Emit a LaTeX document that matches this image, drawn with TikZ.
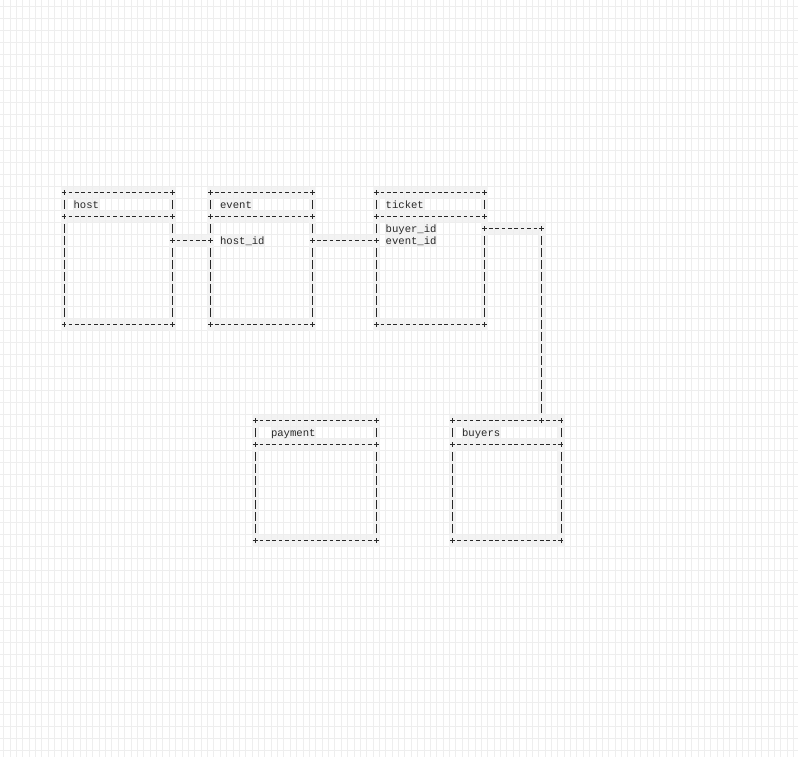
\documentclass[tikz,border=0pt]{standalone}
\usepackage{fontspec}
\setmonofont{Liberation Mono}
\definecolor{ink}{RGB}{40, 40, 40}
\definecolor{cellgray}{RGB}{243, 243, 243}
\definecolor{gridgray}{RGB}{238, 238, 238}
\pgfdeclarelayer{shade}
\pgfdeclarelayer{gridlayer}
\pgfsetlayers{shade,gridlayer,main}

\begin{document}
\begin{tikzpicture}[
        x=6.37pt, y=-12pt,
        every node/.style={inner sep=0pt, outer sep=0pt},
        tablebox/.style 2 args={minimum width=#1*6.37pt, minimum height=#2*12pt},
        fieldtext/.style={anchor=west, font=\ttfamily\fontsize{10.6pt}{12pt}\selectfont,
            text=ink, text height=8pt, text depth=1pt, minimum height=12pt},
        hrun/.style={draw=ink, line width=0.7pt, dash pattern=on 3.6pt off 2.77pt, dash phase=1.8pt},
        vrun/.style={draw=ink, line width=0.7pt, dash pattern=on 9pt off 3pt, dash phase=4.5pt},
        gridline/.style={draw=gridgray, line width=0.6pt},
        crossmark/.pic={
            \fill[cellgray] (-3.185pt,-6pt) rectangle (3.185pt,6pt);
            \draw[ink, solid, line width=0.7pt] (-2.4pt,0pt) -- (2.4pt,0pt) (0pt,-2.4pt) -- (0pt,2.4pt);
        }
    ]
    \useasboundingbox (-64pt,192.5pt) rectangle (734pt,-563.5pt);

    \node[tablebox={17}{11}] (host) at (8.5,5.5) {};
    \node[tablebox={16}{11}] (event) at (31,5.5) {};
    \node[tablebox={17}{11}] (ticket) at (57.5,5.5) {};
    \node[tablebox={19}{10}] (payment) at (39.5,24) {};
    \node[tablebox={17}{10}] (buyers) at (69.5,24) {};

    \node[fieldtext] (hosttitle) at (1.5,1) {host};
    \node[fieldtext] (eventtitle) at (24.5,1) {event};
    \node[fieldtext] (tickettitle) at (50.5,1) {ticket};
    \node[fieldtext] (paymenttitle) at (32.5,20) {payment};
    \node[fieldtext] (buyerstitle) at (62.5,20) {buyers};
    \node[fieldtext] (hostid) at (24.5,4) {host\_id};
    \node[fieldtext] (buyerid) at (50.5,3) {buyer\_id};
    \node[fieldtext] (eventid) at (50.5,4) {event\_id};
    \coordinate (drop) at ([xshift=-19.11pt]buyers.north east);

    \begin{pgfonlayer}{shade}
        \fill[white] (-64pt,192.5pt) rectangle (734pt,-563.5pt);
        \foreach \t in {host,event,ticket,payment,buyers}{
            \fill[cellgray] ([shift={(-3.185pt,6pt)}]\t.north west) rectangle ([shift={(3.185pt,-6pt)}]\t.south east);
            \fill[white] ([shift={(3.185pt,-6pt)}]\t.north west) rectangle ([shift={(-3.185pt,-18pt)}]\t.north east);
            \fill[white] ([shift={(3.185pt,-30pt)}]\t.north west) rectangle ([shift={(-3.185pt,6pt)}]\t.south east);
        }
        \foreach \f in {hosttitle,eventtitle,tickettitle,paymenttitle,buyerstitle,hostid,buyerid,eventid}
            \fill[cellgray] (\f.north west) rectangle (\f.south east);
        \draw[cellgray, line width=12pt] (host.east |- hostid.west) -- (event.west |- hostid.west);
        \draw[cellgray, line width=12pt] (event.east |- eventid.west) -- (ticket.west |- eventid.west);
        \draw[cellgray, line width=12pt] (ticket.east |- buyerid.west) -- (drop |- buyerid.west);
        \draw[cellgray, line width=6.37pt] (drop |- buyerid.west) -- (drop);
    \end{pgfonlayer}

    \begin{pgfonlayer}{gridlayer}
        \foreach \c in {-10,...,116}
            \draw[gridline] (\c-0.5,-17) -- (\c-0.5,48);
        \foreach \r in {-16,...,47}
            \draw[gridline] (-11,\r-0.5) -- (116,\r-0.5);
    \end{pgfonlayer}

    \foreach \t in {host,event,ticket,payment,buyers}{
        \draw[hrun] (\t.north west) -- (\t.north east)
            ([yshift=-24pt]\t.north west) -- ([yshift=-24pt]\t.north east)
            (\t.south west) -- (\t.south east);
        \draw[vrun] (\t.north west) -- (\t.south west) (\t.north east) -- (\t.south east);
        \path (\t.north west) pic{crossmark} (\t.north east) pic{crossmark}
            ([yshift=-24pt]\t.north west) pic{crossmark} ([yshift=-24pt]\t.north east) pic{crossmark}
            (\t.south west) pic{crossmark} (\t.south east) pic{crossmark};
    }

    \draw[hrun] (host.east |- hostid.west) -- (event.west |- hostid.west);
    \draw[hrun] (event.east |- eventid.west) -- (ticket.west |- eventid.west);
    \draw[hrun] (ticket.east |- buyerid.west) -- (drop |- buyerid.west);
    \draw[vrun] (drop |- buyerid.west) -- (drop);
    \path (host.east |- hostid.west) pic{crossmark} (event.west |- hostid.west) pic{crossmark}
        (event.east |- eventid.west) pic{crossmark} (ticket.west |- eventid.west) pic{crossmark}
        (ticket.east |- buyerid.west) pic{crossmark} (drop |- buyerid.west) pic{crossmark}
        (drop) pic{crossmark};
\end{tikzpicture}
\end{document}
